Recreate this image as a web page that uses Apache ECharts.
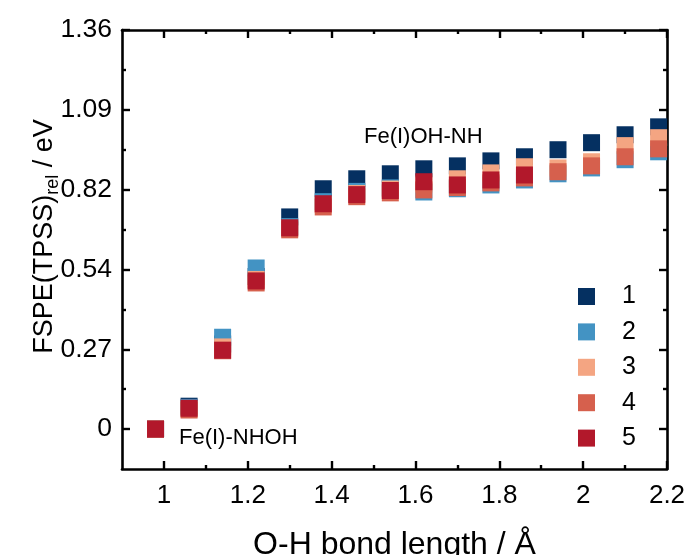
<!DOCTYPE html>
<html>
<head>
<meta charset="utf-8">
<script src="https://cdn.jsdelivr.net/npm/echarts@6/dist/echarts.min.js"></script>
<style>
  html, body { margin: 0; padding: 0; background: #ffffff; }
  #chart { width: 689px; height: 555px; }
</style>
</head>
<body>
<div id="chart"></div>
<script>
// O-H bond length scan (Å)
const bondLength = [0.98, 1.06, 1.14, 1.22, 1.30, 1.38, 1.46, 1.54, 1.62, 1.70, 1.78, 1.86, 1.94, 2.02, 2.10, 2.18];

// Relative FSPE(TPSS) energies (eV) for structures 1-5
const fspe1 = [0, 0.078, 0.290, 0.520, 0.723, 0.819, 0.853, 0.870, 0.887, 0.897, 0.914, 0.928, 0.952, 0.976, 1.003, 1.030];
const fspe2 = [0, 0.074, 0.313, 0.549, 0.690, 0.775, 0.810, 0.822, 0.808, 0.819, 0.832, 0.849, 0.870, 0.890, 0.918, 0.945];
const fspe3 = [0, 0.068, 0.280, 0.510, 0.684, 0.765, 0.803, 0.818, 0.835, 0.853, 0.873, 0.894, 0.890, 0.911, 0.966, 0.993];
const fspe4 = [0, 0.065, 0.267, 0.498, 0.679, 0.757, 0.792, 0.805, 0.815, 0.823, 0.839, 0.856, 0.877, 0.897, 0.928, 0.955];
const fspe5 = [0, 0.071, 0.269, 0.505, 0.686, 0.768, 0.799, 0.813, 0.843, 0.832, 0.849, 0.866];

const seriesNames = ['1', '2', '3', '4', '5'];
const seriesColors = ['#053061', '#4393c3', '#f4a582', '#d6604d', '#b2182b'];

// Tick positions
const xMajorTicks = [1.0, 1.2, 1.4, 1.6, 1.8, 2.0, 2.2];
const xMinorTicks = [1.1, 1.3, 1.5, 1.7, 1.9, 2.1];
const yMajorTicks = [0, 0.272, 0.544, 0.816, 1.088, 1.36];
const yMinorTicks = [0.136, 0.408, 0.68, 0.952, 1.224];

const xRange = [0.9, 2.2];
const yRange = [-0.136, 1.36];

const FONT = '"Liberation Sans", Arial, Helvetica, sans-serif';

function xAxisDef(position, ticks, tickLen, withLabels, withLine, name) {
  return {
    type: 'value', position: position, min: xRange[0], max: xRange[1],
    splitLine: { show: false },
    axisLine: { show: withLine, onZero: false, lineStyle: { color: '#000', width: 2.6 } },
    axisTick: { show: true, inside: true, length: tickLen, customValues: ticks,
                lineStyle: { color: '#000', width: 2.4 } },
    axisLabel: { show: withLabels, customValues: ticks, margin: 14,
                 color: '#000', fontSize: 26, fontFamily: FONT,
                 formatter: v => String(parseFloat(Number(v).toFixed(2))) },
    name: name || '', nameLocation: 'middle', nameGap: 60, nameMoveOverlap: false,
    nameTextStyle: { color: '#000', fontSize: 32, fontFamily: FONT }
  };
}

function yAxisDef(position, ticks, tickLen, withLabels, withLine, name) {
  return {
    type: 'value', position: position, min: yRange[0], max: yRange[1],
    splitLine: { show: false },
    axisLine: { show: withLine, onZero: false, lineStyle: { color: '#000', width: 2.6 } },
    axisTick: { show: true, inside: true, length: tickLen, customValues: ticks,
                lineStyle: { color: '#000', width: 2.4 } },
    axisLabel: { show: withLabels, customValues: ticks, margin: 10,
                 color: '#000', fontSize: 26.5, fontFamily: FONT,
                 formatter: v => (Math.abs(v) < 1e-9 ? '0' : Number(v).toFixed(2)) },
    name: name || '', nameLocation: 'middle', nameGap: 60, nameRotate: 90, nameMoveOverlap: false,
    nameTextStyle: {
      color: '#000', fontFamily: FONT, padding: [0, 0, 0, 26],
      rich: {
        m: { fontSize: 27, fontFamily: FONT, color: '#000', lineHeight: 34 },
        s: { fontSize: 18, fontFamily: FONT, color: '#000', lineHeight: 34, verticalAlign: 'bottom' }
      }
    }
  };
}

const series = [fspe1, fspe2, fspe3, fspe4, fspe5].map((vals, k) => ({
  name: seriesNames[k],
  type: 'scatter',
  xAxisIndex: 0, yAxisIndex: 0,
  symbol: 'rect', symbolSize: 17,
  itemStyle: { color: seriesColors[k], opacity: 1 },
  emphasis: { disabled: true },
  z: 2 + k,
  data: vals.map((v, i) => [bondLength[i], v])
}));

const chart = echarts.init(document.getElementById('chart'), null, { renderer: 'canvas' });
chart.setOption({
  animation: false,
  backgroundColor: '#ffffff',
  grid: { left: 122, right: 22, top: 30, bottom: 86, containLabel: false, outerBoundsMode: 'none' },
  xAxis: [
    xAxisDef('bottom', xMajorTicks, 8, true, true, 'O-H bond length / Å'),
    xAxisDef('bottom', xMinorTicks, 4, false, false),
    xAxisDef('top', xMajorTicks, 8, false, true),
    xAxisDef('top', xMinorTicks, 4, false, false)
  ],
  yAxis: [
    yAxisDef('left', yMajorTicks, 8, true, true, '{m|FSPE(TPSS)}{s|rel}{m| / eV}'),
    yAxisDef('left', yMinorTicks, 4, false, false),
    yAxisDef('right', yMajorTicks, 8, false, true),
    yAxisDef('right', yMinorTicks, 4, false, false)
  ],
  legend: {
    orient: 'vertical', left: 573, top: 279,
    icon: 'rect', itemWidth: 17, itemHeight: 17, itemGap: 10.4,
    selectedMode: false,
    textStyle: { color: '#000', fontSize: 25, fontFamily: FONT, padding: [0, 0, 0, 22] },
    data: seriesNames
  },
  graphic: [
    { type: 'text', left: 364, top: 126, silent: true,
      style: { text: 'Fe(I)OH-NH', fontSize: 22, fontFamily: FONT, fill: '#000' } },
    { type: 'text', left: 179, top: 427, silent: true,
      style: { text: 'Fe(I)-NHOH', fontSize: 22, fontFamily: FONT, fill: '#000' } }
  ],
  series: series
});
</script>
</body>
</html>
